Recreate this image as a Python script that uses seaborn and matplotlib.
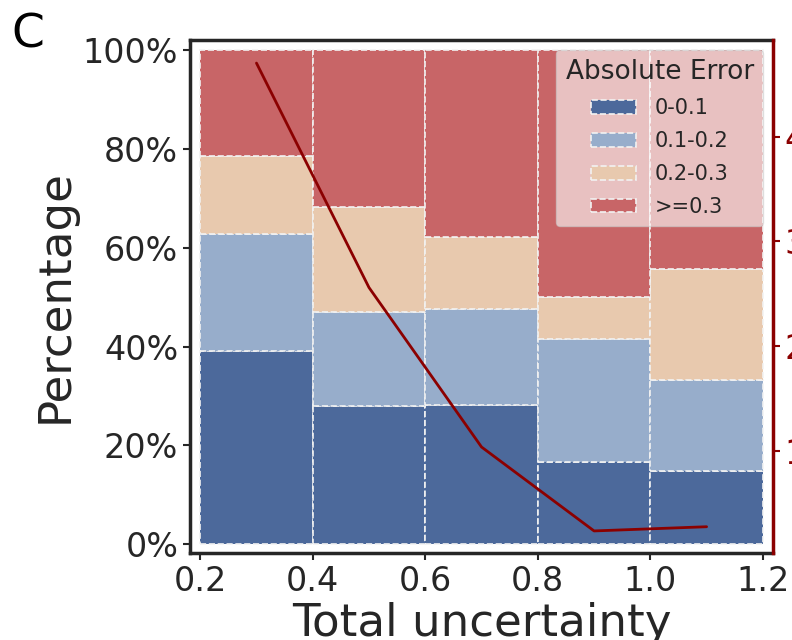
import matplotlib
matplotlib.use("Agg")
import numpy as np
import pandas as pd
import seaborn as sns
import matplotlib.pyplot as plt
from matplotlib.patches import Patch
from matplotlib.ticker import PercentFormatter

# ---- data ----
bin_edges = [0.2, 0.4, 0.6, 0.8, 1.0, 1.2]
bin_centers = [0.3, 0.5, 0.7, 0.9, 1.1]
error_levels = ["0-0.1", "0.1-0.2", "0.2-0.3", ">=0.3"]
pct_0_01 = [39.1, 28.0, 28.2, 16.6, 14.8]
pct_01_02 = [23.7, 19.0, 19.4, 24.9, 18.4]
pct_02_03 = [15.8, 21.3, 14.6, 8.5, 22.5]
pct_ge_03 = [21.4, 31.7, 37.8, 50.0, 44.3]
line_values = [4.70, 2.56, 1.04, 0.24, 0.28]
x_ticks = [0.2, 0.4, 0.6, 0.8, 1.0, 1.2]
y_ticks = [0, 20, 40, 60, 80, 100]
y2_ticks = [1, 2, 3, 4]
colors = ["#4C699B", "#97ADCB", "#E8C9AE", "#C86567"]

sns.set_theme(style="ticks")
plt.rcParams["font.family"] = ["DejaVu Sans"]

rows = []
for lvl, vals in zip(error_levels, [pct_0_01, pct_01_02, pct_02_03, pct_ge_03]):
    for c, v in zip(bin_centers, vals):
        rows.append({"unc": c, "level": lvl, "pct": v})
df = pd.DataFrame(rows)

fig = plt.figure(figsize=(7.92, 6.4), dpi=100)
ax = fig.add_axes([0.240, 0.136, 0.736, 0.8015])

edge = "#f2f2f2"
sns.histplot(data=df, x="unc", hue="level", weights="pct", bins=bin_edges,
             multiple="stack", hue_order=error_levels[::-1],
             palette=dict(zip(error_levels, colors)), alpha=1,
             edgecolor=edge, linewidth=1.2, linestyle="--",
             legend=False, ax=ax)

ax.set_xlim(0.182, 1.218)
ax.set_ylim(-1.8, 102.1)
ax.set_xticks(x_ticks)
ax.set_yticks(y_ticks)
ax.yaxis.set_major_formatter(PercentFormatter(100, decimals=0))
ax.tick_params(axis="both", labelsize=24, length=5, width=1.5, colors="#262626")
ax.set_xlabel("Total uncertainty", fontsize=32.5, labelpad=3, color="#262626")
ax.set_ylabel("Percentage", fontsize=32.5, labelpad=4.5, color="#262626")
for s in ["left", "bottom", "top"]:
    ax.spines[s].set_visible(True)
    ax.spines[s].set_linewidth(2.5)
    ax.spines[s].set_color("#262626")
ax.spines["right"].set_visible(False)

handles = [Patch(facecolor=c, edgecolor=edge, linestyle="--", linewidth=1.2) for c in colors]
leg = ax.legend(handles, error_levels, title="Absolute Error", loc="upper right",
                fontsize=15, title_fontsize=19, framealpha=0.6, fancybox=True,
                handlelength=2.15, handleheight=0.65, labelspacing=0.62,
                handletextpad=0.9, borderaxespad=0.47, borderpad=0.45)

ax2 = ax.twinx()
sns.lineplot(x=bin_centers, y=line_values, ax=ax2, color="#8B0000", linewidth=2)
ax2.set_ylim(0.03, 4.92)
ax2.set_yticks(y2_ticks)
ax2.tick_params(axis="y", labelsize=24, length=5, width=1.5, colors="#8B0000")
for s in ["left", "bottom", "top"]:
    ax2.spines[s].set_visible(False)
ax2.spines["right"].set_visible(True)
ax2.spines["right"].set_color("#8B0000")
ax2.spines["right"].set_linewidth(2.5)

fig.text(0.014, 0.925, "C", fontsize=34, ha="left", va="baseline", color="black")

fig.savefig("out.png", dpi=100)
